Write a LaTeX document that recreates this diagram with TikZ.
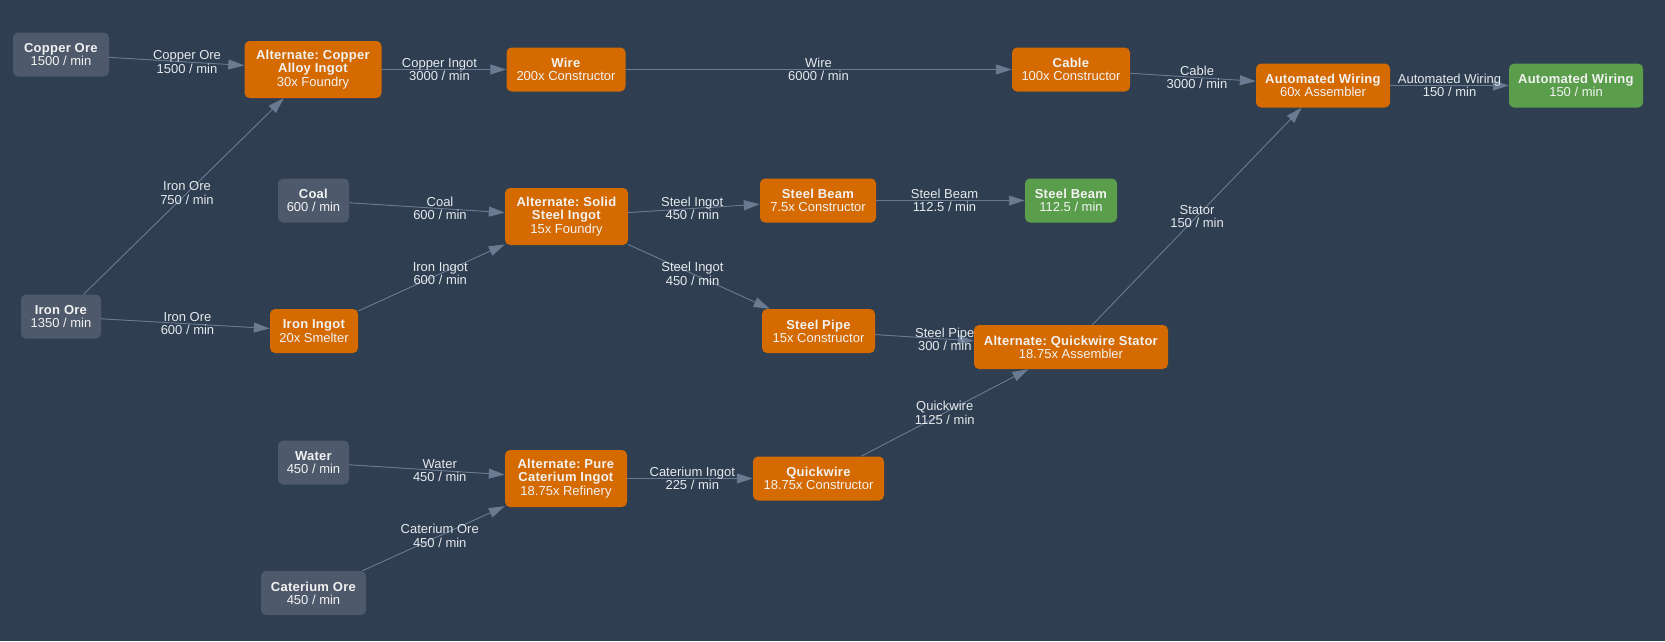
\documentclass[tikz,border=0pt]{standalone}
\usepackage{fontspec}
\setmainfont{Liberation Sans}[BoldFeatures={LetterSpace=2}]
\usetikzlibrary{arrows.meta,calc}
\definecolor{bgc}{HTML}{2F3E50}
\definecolor{rawc}{HTML}{4E5A6B}
\definecolor{orng}{HTML}{D46A00}
\definecolor{grn}{HTML}{5A9E4C}
\definecolor{edgec}{HTML}{6A7A90}
\definecolor{txtc}{HTML}{F2F2F2}
\definecolor{lblc}{HTML}{E6E9EE}
\tikzset{
  box/.style={rounded corners=5pt, text=txtc, align=center, inner sep=0pt,
    minimum height=44pt, font={\fontsize{13}{13.3}\selectfont\frenchspacing}},
  rawbox/.style={box, fill=rawc},
  procbox/.style={box, fill=orng},
  outbox/.style={box, fill=grn},
  tallbox/.style={minimum height=57pt},
  flow/.style={draw=edgec, line width=0.9pt, -{Triangle[length=16pt,width=10pt]}, fill=edgec},
  lbl/.style={text=lblc, align=center, inner sep=0pt, font={\fontsize{13}{13.3}\selectfont}}
}
\begin{document}
\begin{tikzpicture}[x=1pt,y=-1pt]
\fill[bgc] (0,0) rectangle (1665,641);
\useasboundingbox (0,0) rectangle (1665,641);

% nodes
\node[rawbox, minimum width=96pt] (cuore) at (61,54.5) {\textbf{Copper Ore}\\1500 / min};
\node[procbox, tallbox, minimum width=137pt] (altcu) at (313,69.5) {\textbf{Alternate: Copper}\\\textbf{Alloy Ingot}\\30x Foundry};
\node[procbox, minimum width=119pt] (wire) at (566,69.5) {\textbf{Wire}\\200x Constructor};
\node[procbox, minimum width=118pt] (cable) at (1071,69.5) {\textbf{Cable}\\100x Constructor};
\node[procbox, minimum width=134pt] (aw) at (1323,85.5) {\textbf{Automated Wiring}\\60x Assembler};
\node[outbox, minimum width=134pt] (awg) at (1576,85.5) {\textbf{Automated Wiring}\\150 / min};
\node[rawbox, minimum width=71pt] (coal) at (313.5,200.5) {\textbf{Coal}\\600 / min};
\node[procbox, tallbox, minimum width=123pt] (solid) at (566.5,216.5) {\textbf{Alternate: Solid}\\\textbf{Steel Ingot}\\15x Foundry};
\node[procbox, minimum width=116pt] (beam) at (818,200.5) {\textbf{Steel Beam}\\7.5x Constructor};
\node[outbox, minimum width=92pt] (beamg) at (1071,200.5) {\textbf{Steel Beam}\\112.5 / min};
\node[rawbox, minimum width=80pt] (feore) at (61,316.5) {\textbf{Iron Ore}\\1350 / min};
\node[procbox, minimum width=88pt] (feing) at (314,331) {\textbf{Iron Ingot}\\20x Smelter};
\node[procbox, minimum width=113pt] (pipe) at (818.5,331) {\textbf{Steel Pipe}\\15x Constructor};
\node[procbox, minimum width=194pt] (stator) at (1071,347) {\textbf{Alternate: Quickwire Stator}\\18.75x Assembler};
\node[rawbox, minimum width=71pt] (water) at (313.5,462.5) {\textbf{Water}\\450 / min};
\node[procbox, tallbox, minimum width=122pt] (purecat) at (566,478.5) {\textbf{Alternate: Pure}\\\textbf{Caterium Ingot}\\18.75x Refinery};
\node[procbox, minimum width=131pt] (qwire) at (818.5,478.5) {\textbf{Quickwire}\\18.75x Constructor};
\node[rawbox, minimum width=105pt] (catore) at (313.5,593) {\textbf{Caterium Ore}\\450 / min};

% edges
\draw[flow] (cuore) -- (altcu);
\draw[flow] (feore) -- (altcu);
\draw[flow] (feore) -- (feing);
\draw[flow] (altcu) -- (wire);
\draw[flow] (wire) -- (cable);
\draw[flow] (cable) -- (aw);
\draw[flow] (aw) -- (awg);
\draw[flow] (coal) -- (solid);
\draw[flow] (feing) -- (solid);
\draw[flow] (solid) -- (beam);
\draw[flow] (solid) -- (pipe);
\draw[flow] (beam) -- (beamg);
\draw[flow] (pipe) -- (stator);
\draw[flow] (stator) -- (aw);
\draw[flow] (water) -- (purecat);
\draw[flow] (catore) -- (purecat);
\draw[flow] (purecat) -- (qwire);
\draw[flow] (qwire) -- (stator);

% edge labels
\node[lbl] (l1) at ($(cuore.center)!0.5!(altcu.center)$) {Copper Ore\\1500 / min};
\node[lbl] (l2) at ($(feore.center)!0.5!(altcu.center)$) {Iron Ore\\750 / min};
\node[lbl] (l3) at ($(feore.center)!0.5!(feing.center)$) {Iron Ore\\600 / min};
\node[lbl] (l4) at ($(altcu.center)!0.5!(wire.center)$) {Copper Ingot\\3000 / min};
\node[lbl] (l5) at ($(wire.center)!0.5!(cable.center)$) {Wire\\6000 / min};
\node[lbl] (l6) at ($(cable.center)!0.5!(aw.center)$) {Cable\\3000 / min};
\node[lbl] (l7) at ($(aw.center)!0.5!(awg.center)$) {Automated Wiring\\150 / min};
\node[lbl] (l8) at ($(coal.center)!0.5!(solid.center)$) {Coal\\600 / min};
\node[lbl] (l9) at ($(feing.center)!0.5!(solid.center)$) {Iron Ingot\\600 / min};
\node[lbl] (l10) at ($(solid.center)!0.5!(beam.center)$) {Steel Ingot\\450 / min};
\node[lbl] (l11) at ($(solid.center)!0.5!(pipe.center)$) {Steel Ingot\\450 / min};
\node[lbl] (l12) at ($(beam.center)!0.5!(beamg.center)$) {Steel Beam\\112.5 / min};
\node[lbl] (l13) at ($(pipe.center)!0.5!(stator.center)$) {Steel Pipe\\300 / min};
\node[lbl] (l14) at ($(stator.center)!0.5!(aw.center)$) {Stator\\150 / min};
\node[lbl] (l15) at ($(water.center)!0.5!(purecat.center)$) {Water\\450 / min};
\node[lbl] (l16) at ($(catore.center)!0.5!(purecat.center)$) {Caterium Ore\\450 / min};
\node[lbl] (l17) at ($(purecat.center)!0.5!(qwire.center)$) {Caterium Ingot\\225 / min};
\node[lbl] (l18) at ($(qwire.center)!0.5!(stator.center)$) {Quickwire\\1125 / min};
\end{tikzpicture}
\end{document}
